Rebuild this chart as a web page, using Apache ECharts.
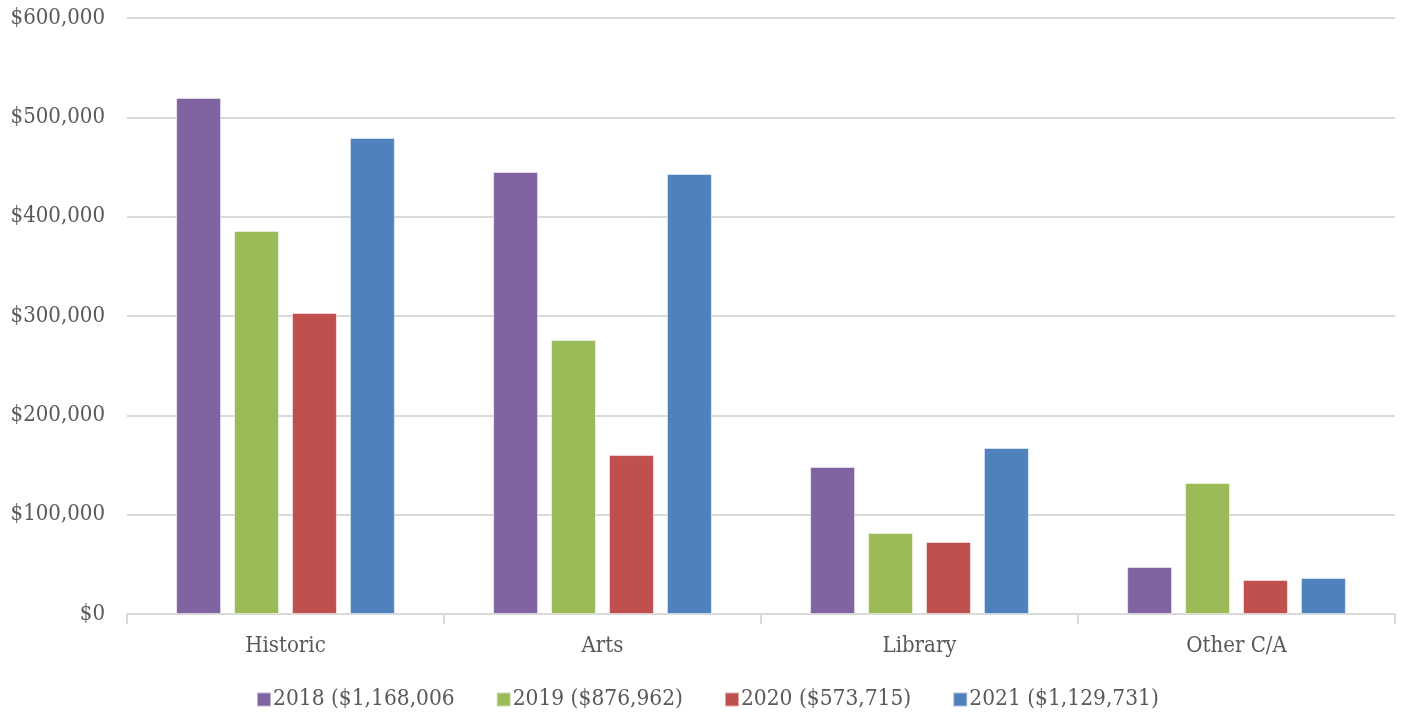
<!DOCTYPE html>
<html><head><meta charset="utf-8">
<script src="https://cdn.jsdelivr.net/npm/echarts@6/dist/echarts.min.js"></script>
<style>html,body{margin:0;padding:0;background:#fff}#c{width:1405px;height:716px}</style>
</head><body><div id="c"></div>
<script>
const categories = ["Historic", "Arts", "Library", "Other C/A"];
const seriesNames = ["2018 ($1,168,006", "2019 ($876,962)", "2020 ($573,715)", "2021 ($1,129,731)"];
const v2018 = [519500, 445000, 148000, 47300];
const v2019 = [385600, 275800, 81500, 131900];
const v2020 = [303000, 160000, 72500, 34200];
const v2021 = [479200, 443000, 167100, 36200];
const colors = ["#8064A2", "#9BBB59", "#C0504D", "#4F81BD"];
const yTicks = { min: 0, max: 600000, interval: 100000 };

const font = "'DejaVu Serif Condensed', 'DejaVu Serif', serif";
const chart = echarts.init(document.getElementById('c'));
const data = [v2018, v2019, v2020, v2021];
chart.setOption({
  animation: false,
  textStyle: { fontFamily: font },
  grid: { left: 127, right: 10, top: 18, bottom: 102 },
  legend: {
    top: 683, left: 251, itemWidth: 14, itemHeight: 14, itemGap: 41,
    icon: 'rect',
    textStyle: { fontFamily: font, fontSize: 22.5, color: '#595959', padding: [0, 0, 0, -3] },
    data: seriesNames
  },
  xAxis: {
    type: 'category', data: categories,
    axisLine: { lineStyle: { color: '#d9d9d9', width: 2 } },
    axisTick: { show: true, length: 10, lineStyle: { color: '#d9d9d9', width: 2 } },
    axisLabel: { fontFamily: font, fontSize: 22, color: '#595959', margin: 21 }
  },
  yAxis: {
    type: 'value', min: yTicks.min, max: yTicks.max, interval: yTicks.interval,
    axisLine: { show: false }, axisTick: { show: false },
    splitLine: { lineStyle: { color: '#d9d9d9', width: 2 } },
    axisLabel: {
      fontFamily: font, fontSize: 22, color: '#595959', margin: 22,
      formatter: v => '$' + v.toLocaleString('en-US')
    }
  },
  series: seriesNames.map((n, i) => ({
    name: n, type: 'bar', data: data[i],
    barGap: '29%', barCategoryGap: '31%',
    itemStyle: { color: colors[i], borderColor: 'rgba(255,255,255,0.5)', borderWidth: 1 }
  }))
});
</script></body></html>
